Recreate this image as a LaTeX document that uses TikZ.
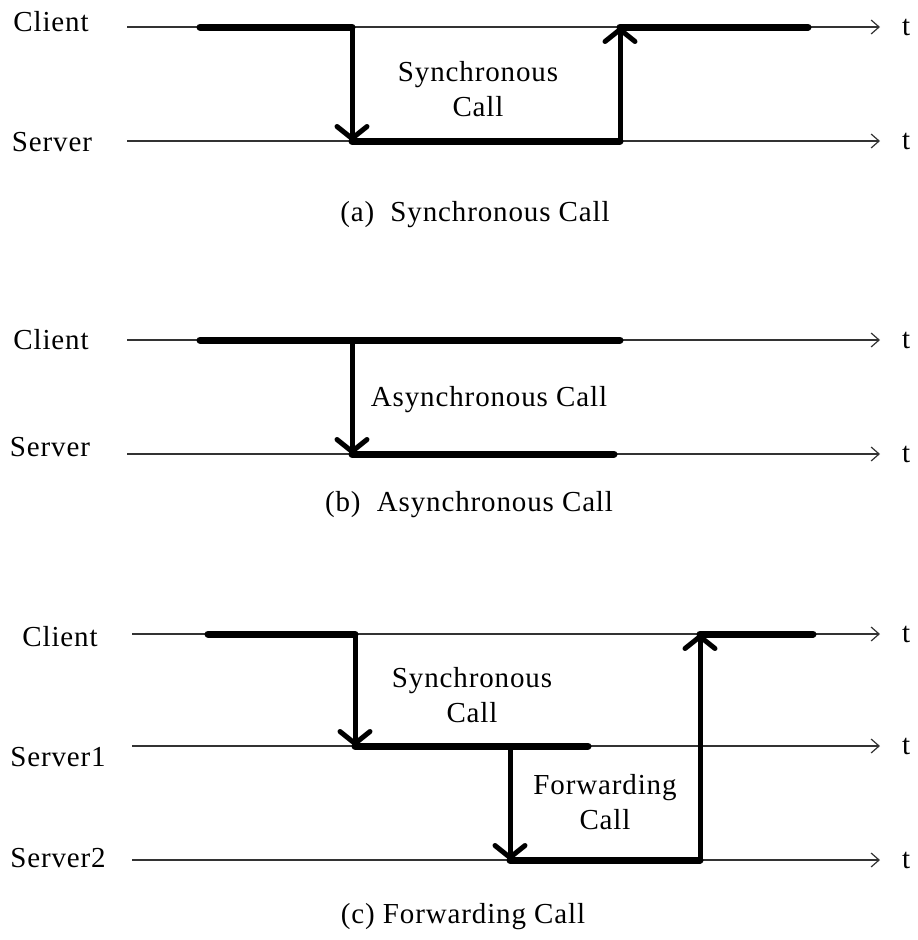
\documentclass[tikz,border=0pt]{standalone}
\usepackage{fontspec}
\setmainfont[LetterSpace=3]{Liberation Serif}
\usetikzlibrary{arrows.meta}
\begin{document}
\begin{tikzpicture}[x=1pt,y=-1pt,
  font=\fontsize{29}{35}\selectfont,
  timeline/.style={line width=1.2pt,draw=black!80,-{Straight Barb[length=8pt,width=14pt,line width=1.2pt]}},
  busy/.style={line width=7pt,line cap=round},
  call/.style={line width=5pt,line cap=round,-{Straight Barb[length=12pt,width=30pt,line width=5pt,round]}},
  lbl/.style={inner sep=0pt},
  tlbl/.style={inner sep=0pt,anchor=west}]
\useasboundingbox (0,0) rectangle (918,940);

% ---------- (a) synchronous call ----------
\node[lbl] (ca) at (51,22) {Client};
\node[lbl] (sa) at (52,142) {Server};
\coordinate (ca0) at (127,27);  \coordinate (ca1) at (880,27);
\coordinate (sa0) at (127,141); \coordinate (sa1) at (880,141);
\draw[timeline] (ca0) -- (ca1);
\draw[timeline] (sa0) -- (sa1);
\node[tlbl] (tca) at (902,27) {t};
\node[tlbl] (tsa) at (902,141) {t};
\coordinate (a1) at (200,27);
\coordinate (a2) at (352,27);
\coordinate (a3) at (352,141);
\coordinate (a4) at (620,141);
\coordinate (a5) at (620,27);
\coordinate (a6) at (808,27);
\draw[busy] (a1) -- (a2);
\draw[call] (a2) -- (a3);
\draw[busy] (a3) -- (a4);
\draw[call] (a4) -- (a5);
\draw[busy] (a5) -- (a6);
\node[lbl,align=center] (syna) at (478,89) {Synchronous\\Call};
\node[lbl] (capa) at (475,215) {(a)\ \ Synchronous Call};

% ---------- (b) asynchronous call ----------
\node[lbl] (cb) at (51,340) {Client};
\node[lbl] (sb) at (50,447) {Server};
\coordinate (cb0) at (127,340); \coordinate (cb1) at (880,340);
\coordinate (sb0) at (127,454); \coordinate (sb1) at (880,454);
\draw[timeline] (cb0) -- (cb1);
\draw[timeline] (sb0) -- (sb1);
\node[tlbl] (tcb) at (902,340) {t};
\node[tlbl] (tsb) at (902,454) {t};
\coordinate (b1) at (200,340);
\coordinate (b2) at (352,340);
\coordinate (b3) at (620,340);
\coordinate (b4) at (352,454);
\coordinate (b5) at (614,454);
\draw[busy] (b1) -- (b3);
\draw[call] (b2) -- (b4);
\draw[busy] (b4) -- (b5);
\node[lbl] (asy) at (489,400) {Asynchronous Call};
\node[lbl] (capb) at (469,505) {(b)\ \ Asynchronous Call};

% ---------- (c) forwarding call ----------
\node[lbl] (cc) at (60,637) {Client};
\node[lbl] (s1c) at (58,757) {Server1};
\node[lbl] (s2c) at (58,858) {Server2};
\coordinate (cc0) at (132,634);  \coordinate (cc1) at (880,634);
\coordinate (s1c0) at (132,746); \coordinate (s1c1) at (880,746);
\coordinate (s2c0) at (132,860); \coordinate (s2c1) at (880,860);
\draw[timeline] (cc0) -- (cc1);
\draw[timeline] (s1c0) -- (s1c1);
\draw[timeline] (s2c0) -- (s2c1);
\node[tlbl] (tcc) at (902,634) {t};
\node[tlbl] (ts1c) at (902,746) {t};
\node[tlbl] (ts2c) at (902,860) {t};
\coordinate (c1) at (208,634);
\coordinate (c2) at (355,634);
\coordinate (c3) at (355,746);
\coordinate (c4) at (510,746);
\coordinate (c5) at (588,746);
\coordinate (c6) at (510,860);
\coordinate (c7) at (700,860);
\coordinate (c8) at (700,634);
\coordinate (c9) at (813,634);
\draw[busy] (c1) -- (c2);
\draw[call] (c2) -- (c3);
\draw[busy] (c3) -- (c5);
\draw[call] (c4) -- (c6);
\draw[busy] (c6) -- (c7);
\draw[call] (c7) -- (c8);
\draw[busy] (c8) -- (c9);
\node[lbl,align=center] (sync) at (472,695) {Synchronous\\Call};
\node[lbl,align=center] (fwd) at (605,802) {Forwarding\\Call};
\node[lbl] (capc) at (463,917) {(c) Forwarding Call};
\end{tikzpicture}
\end{document}
